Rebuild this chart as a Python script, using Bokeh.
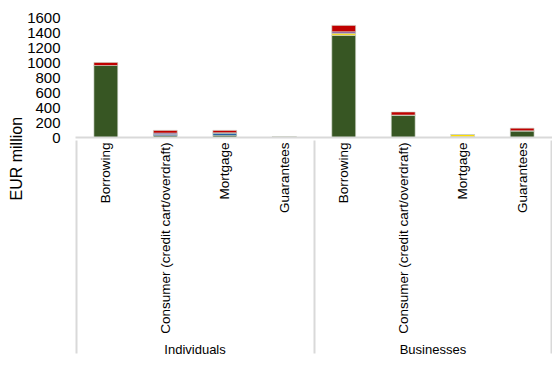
import math
from bokeh.plotting import figure
from bokeh.models import (FactorRange, Range1d, Legend, LegendItem, Title,
                          FixedTicker, ColumnDataSource)
from bokeh.embed import file_html
from bokeh.resources import INLINE

groups = ["Individuals", "Businesses"]
products = ["Borrowing", "Consumer (credit cart/overdraft)", "Mortgage", "Guarantees"]
series = ["A", "B", "C", "D", "E"]
colors = ["#375623", "#0b4fa3", "#ffdd00", "#7030a0", "#c00000"]

A = [960, 25, 30, 10, 1360, 300, 10, 90]
B = [0, 20, 30, 0, 5, 0, 0, 0]
C = [0, 0, 0, 3, 25, 0, 30, 0]
D = [0, 15, 5, 0, 20, 0, 0, 0]
E = [40, 35, 30, 0, 85, 40, 0, 35]
y_ticks = [0, 200, 400, 600, 800, 1000, 1200, 1400, 1600]

factors = [(g, pr) for g in groups for pr in products]
source = ColumnDataSource(data=dict(x=factors, A=A, B=B, C=C, D=D, E=E))

# empty edge groups (just outside the visible range) so that group separators are drawn at the edges
edge_left = [(" ", " ")]
edge_right = [("  ", "  ")]
x_range = FactorRange(*(edge_left + factors + edge_right), range_padding=-0.99,
                      range_padding_units="absolute", group_padding=0, factor_padding=0)

FONT = "Liberation Sans"

p = figure(x_range=x_range, y_range=Range1d(0, 1600), frame_width=477, frame_height=120,
           output_backend="svg", toolbar_location=None,
           min_border_left=75, min_border_right=0, min_border_top=17, min_border_bottom=0)
p.outline_line_color = None
p.xgrid.visible = False
p.ygrid.visible = False

renderers = p.vbar_stack(series, x="x", width=0.4, color=colors, source=source,
                         line_color="#c9d0c2", line_width=0.6)

# y axis
yax = p.yaxis[0]
yax.axis_label = None
yax.ticker = FixedTicker(ticks=y_ticks)
yax.axis_line_color = None
yax.major_tick_line_color = None
yax.minor_tick_line_color = None
yax.major_tick_out = 0
yax.major_label_standoff = 15
yax.major_label_text_font = FONT
yax.major_label_text_font_size = "15px"
yax.major_label_text_color = "#000000"

# y axis title
p.add_layout(Title(text="EUR million", align="left", offset=-63, text_font=FONT,
                   text_font_size="16px", text_font_style="normal", text_color="#000000",
                   standoff=0), "left")

# x axis
xax = p.xaxis[0]
xax.axis_label = None
xax.axis_line_color = "#d9d9d9"
xax.axis_line_width = 2
xax.major_tick_line_color = None
xax.major_tick_out = 0
xax.major_label_orientation = math.pi / 2
xax.major_label_standoff = 5
xax.major_label_text_font = FONT
xax.major_label_text_font_size = "13.5px"
xax.major_label_text_color = "#000000"
xax.group_text_font = FONT
xax.group_text_font_size = "13px"
xax.group_text_font_style = "normal"
xax.group_text_color = "#000000"
xax.separator_line_color = "#d9d9d9"
xax.separator_line_width = 2

legend = Legend(items=[LegendItem(label=s, renderers=[r]) for s, r in zip(series, renderers)],
                orientation="horizontal", location="top_left",
                glyph_width=8, glyph_height=8, label_standoff=4, label_width=80,
                label_height=20, spacing=8, padding=0, margin=0, border_line_color=None,
                label_text_font=FONT, label_text_font_size="14px",
                label_text_color="#595959")
p.add_layout(legend, "below")

open("out.html", "w").write(file_html(p, INLINE))
